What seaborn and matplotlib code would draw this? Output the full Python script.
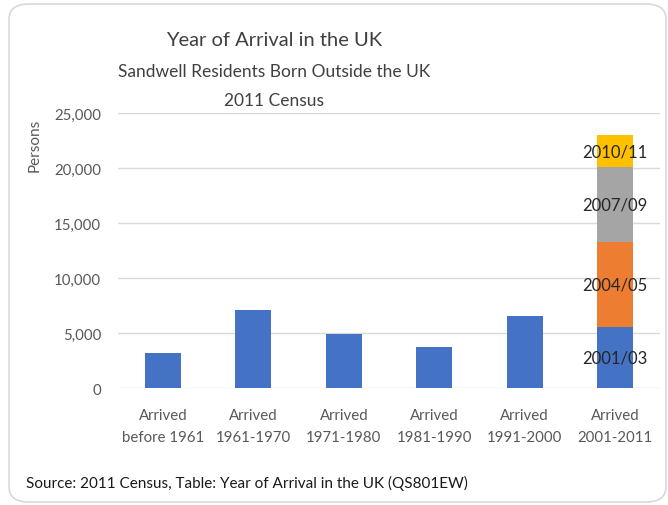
import matplotlib
matplotlib.use("Agg")
import matplotlib.pyplot as plt
from matplotlib.patches import FancyBboxPatch
import seaborn as sns
import pandas as pd

# Residents born outside the UK by period of arrival (Sandwell, 2011 Census)
categories = ["Arrived\nbefore 1961", "Arrived\n1961-1970", "Arrived\n1971-1980",
              "Arrived\n1981-1990", "Arrived\n1991-2000", "Arrived\n2001-2011"]
decade_values = [3200, 7100, 4900, 3800, 6600]

# The 2001-2011 period split into sub-periods
recent_segments = ["2001/03", "2004/05", "2007/09", "2010/11"]
recent_values = [5600, 7700, 6800, 2900]
segment_colors = ["#4472C4", "#ED7D31", "#A5A5A5", "#FFC000"]

y_ticks = [0, 5000, 10000, 15000, 20000, 25000]

sns.set_theme(style="white")
plt.rcParams["font.family"] = ["Lato", "DejaVu Sans"]

W, H = 668, 506
fig = plt.figure(figsize=(W / 100, H / 100), dpi=100)

# rounded frame around the chart
frame = FancyBboxPatch((9 / W, 1 - 503 / H), (666 - 9) / W, (503 - 5) / H,
                       boxstyle="round,pad=0,rounding_size=0.03",
                       transform=fig.transFigure, fill=False,
                       edgecolor="#D9D9D9", linewidth=1.2, zorder=0)
fig.patches.append(frame)

ax = fig.add_axes([117.8 / W, 1 - 389.3 / H, (660.2 - 117.8) / W, (389.3 - 114.3) / H])

df_main = pd.DataFrame({"period": categories[:5], "persons": decade_values})
sns.barplot(data=df_main, x="period", y="persons", order=categories,
            color=segment_colors[0], width=0.4, saturation=1, ax=ax,
            edgecolor="none", zorder=3)

# stacked column for 2001-2011: draw cumulative heights from the top down
cum = []
total = 0
for v in recent_values:
    total += v
    cum.append(total)
for i in range(len(recent_segments) - 1, -1, -1):
    df_seg = pd.DataFrame({"period": [categories[5]], "persons": [cum[i]]})
    sns.barplot(data=df_seg, x="period", y="persons", order=categories,
                color=segment_colors[i], width=0.4, saturation=1, ax=ax,
                edgecolor="none", zorder=3)

# segment labels
bottom = 0
for name, v in zip(recent_segments, recent_values):
    ax.text(5, bottom + v / 2, name, ha="center", va="center",
            fontsize=12, color="#262626", zorder=5)
    bottom += v

ax.set_xlim(-0.5, 5.5)
ax.set_ylim(0, 25000)
ax.set_yticks(y_ticks)
ax.set_yticklabels([f"{t:,}" for t in y_ticks])
ax.yaxis.grid(True, color="#D9D9D9", linewidth=1.0, zorder=0)
ax.set_axisbelow(True)
for s in ax.spines.values():
    s.set_visible(False)
ax.tick_params(axis="both", length=0, colors="#595959", labelsize=10.8)
ax.tick_params(axis="y", pad=12)
ax.tick_params(axis="x", pad=14)
for lbl in ax.get_xticklabels():
    lbl.set_linespacing(1.75)
ax.set_xlabel("")
ax.set_ylabel("")

fig.text(35 / W, 1 - 145 / H, "Persons", rotation=90, ha="center", va="center",
         fontsize=11, color="#595959")

title_x = 274 / W
fig.text(title_x, 1 - 40 / H, "Year of Arrival in the UK", ha="center", va="center",
         fontsize=14.5, color="#404040")
fig.text(title_x, 1 - 72 / H, "Sandwell Residents Born Outside the UK", ha="center",
         va="center", fontsize=12.5, color="#404040")
fig.text(title_x, 1 - 101 / H, "2011 Census", ha="center", va="center",
         fontsize=12.5, color="#404040")

fig.text(26 / W, 1 - 483 / H,
         "Source: 2011 Census, Table: Year of Arrival in the UK (QS801EW)",
         ha="left", va="center", fontsize=11, color="#1a1a1a")

fig.savefig("out.png", dpi=100)
